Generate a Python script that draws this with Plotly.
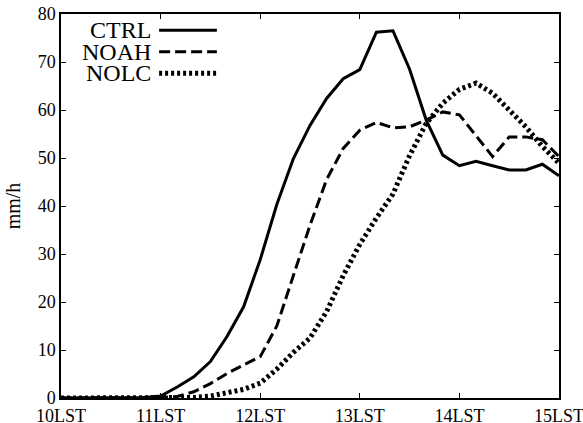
import plotly.graph_objects as go

# time axis: minutes after 10LST, every 10 minutes
minutes = [0, 10, 20, 30, 40, 50, 60, 70, 80, 90, 100, 110, 120, 130, 140, 150,
           160, 170, 180, 190, 200, 210, 220, 230, 240, 250, 260, 270, 280, 290, 300]
hours = [10 + m / 60 for m in minutes]

ctrl = [0, 0, 0, 0, 0, 0.1, 0.4, 2.3, 4.4, 7.6, 12.8, 19.0, 28.8, 40.3, 49.9, 56.8,
        62.4, 66.5, 68.4, 76.2, 76.5, 68.5, 57.9, 50.6, 48.4, 49.3, 48.4, 47.5,
        47.5, 48.7, 46.3]
noah = [0, 0, 0, 0, 0, 0, 0.1, 0.3, 1.3, 3.0, 5.1, 6.9, 8.6, 15.0, 25.5, 36.0,
        45.5, 52.0, 55.8, 57.4, 56.3, 56.5, 57.9, 59.6, 59.0, 54.7, 50.3, 54.4,
        54.4, 53.8, 50.3]
nolc = [0, 0, 0, 0, 0, 0, 0, 0, 0.1, 0.4, 1.0, 1.8, 3.1, 6.0, 9.5, 12.5,
        18.0, 25.5, 32.0, 37.5, 42.5, 50.5, 57.2, 61.4, 64.3, 65.6, 63.5, 60.0,
        56.5, 52.4, 48.9]

tick_vals = [10, 11, 12, 13, 14, 15]
tick_text = ["10LST", "11LST", "12LST", "13LST", "14LST", "15LST"]
y_ticks = [0, 10, 20, 30, 40, 50, 60, 70, 80]

names = ["CTRL", "NOAH", "NOLC"]
series = [ctrl, noah, nolc]
widths = [3, 3, 5]
dashes = ["solid", "11px,5px", "3px,3px"]

FONT = "Liberation Serif"

fig = go.Figure()
for name, vals, w, d in zip(names, series, widths, dashes):
    fig.add_trace(go.Scatter(x=hours, y=vals, mode="lines", name=name,
                             line=dict(color="black", width=w, dash=d),
                             cliponaxis=False, showlegend=False))

# gnuplot-style key: label then line sample
key_y = [0.958, 0.902, 0.846]
for name, w, d, ky in zip(names, widths, dashes, key_y):
    fig.add_annotation(x=0.183, y=ky, xref="paper", yref="paper", text=name,
                       showarrow=False, xanchor="right", yanchor="middle",
                       borderpad=0,
                       font=dict(family=FONT, size=24, color="black"))
    fig.add_shape(type="line", xref="paper", yref="paper", x0=0.197, x1=0.313,
                  y0=ky, y1=ky, line=dict(color="black", width=w, dash=d))

axis_common = dict(showline=True, linecolor="black", linewidth=1.5, mirror="ticks",
                   ticks="inside", ticklen=5, tickwidth=1, tickcolor="black",
                   showgrid=False, zeroline=False, automargin=False,
                   tickfont=dict(family=FONT, size=18, color="black"))

fig.update_xaxes(range=[10, 15], tickvals=tick_vals, ticktext=tick_text,
                 ticklabelstandoff=1, ticklabeloverflow="allow", **axis_common)
fig.update_yaxes(range=[0, 80], tickvals=y_ticks, ticklabelstandoff=0,
                 title=dict(text="mm/h", standoff=12,
                            font=dict(family=FONT, size=20, color="black")),
                 **axis_common)

fig.update_layout(width=583, height=423, margin=dict(l=61, r=24, t=14, b=25),
                  plot_bgcolor="white", paper_bgcolor="white",
                  font=dict(family=FONT, color="black"))

fig.write_html("out.html", config={"displayModeBar": False},
               post_script="document.body.style.margin='0';")
